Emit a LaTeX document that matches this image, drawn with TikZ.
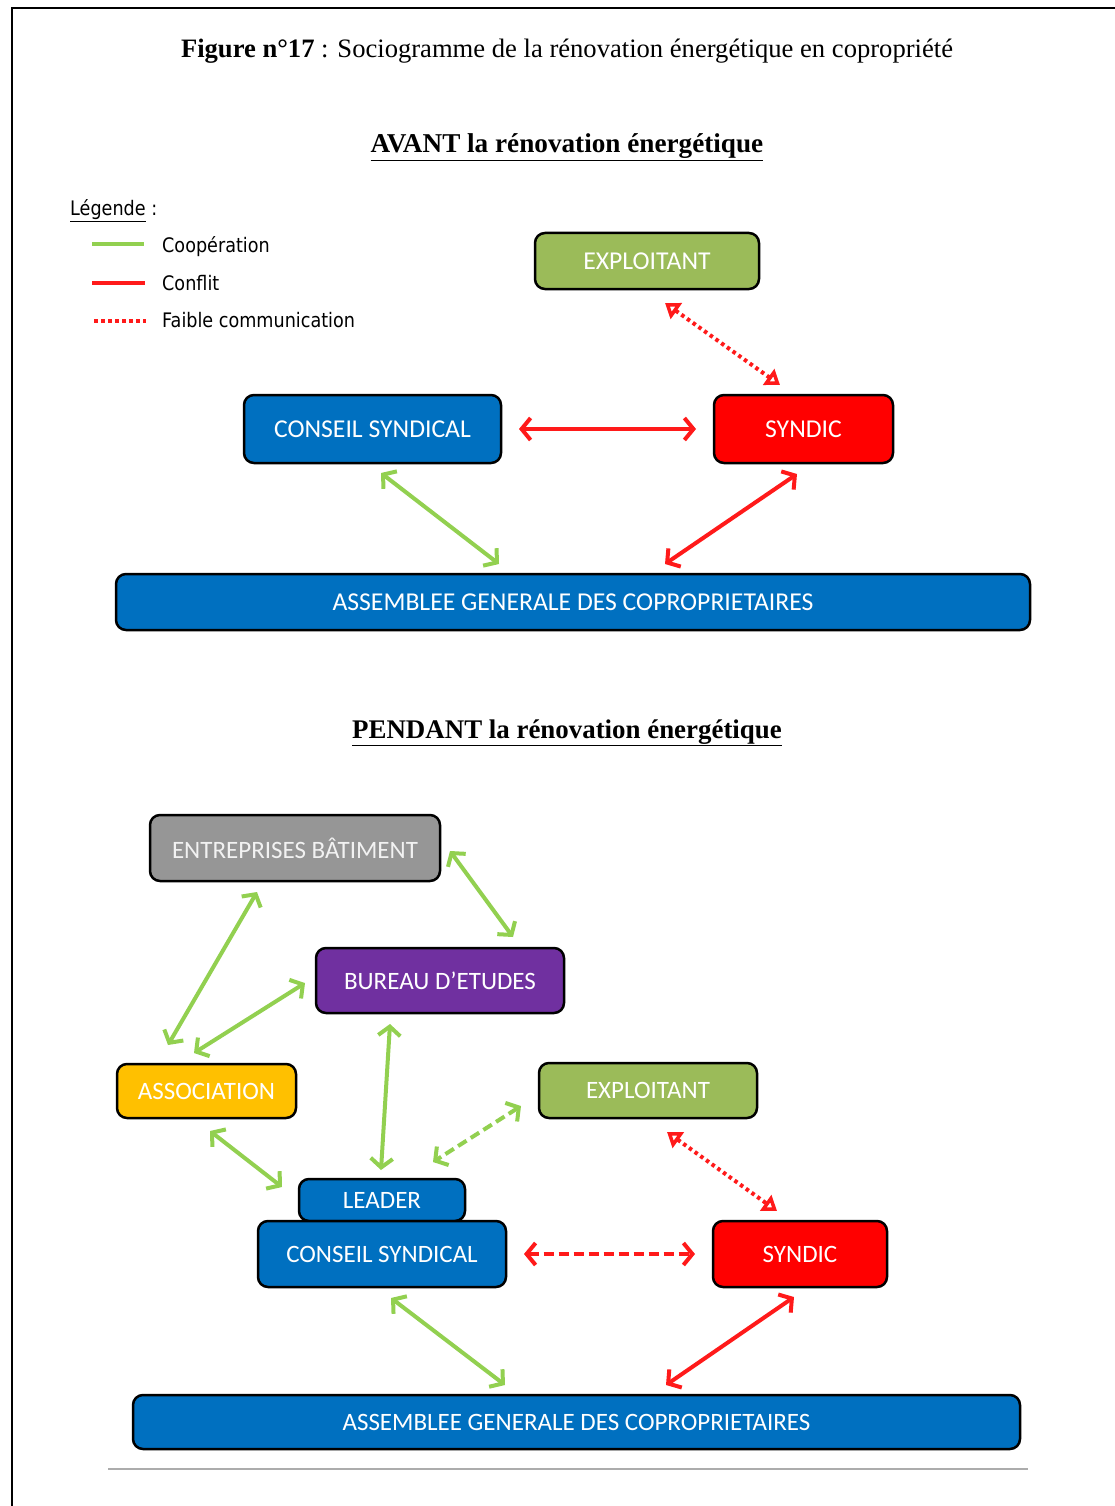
\documentclass[tikz,border=0pt]{standalone}
\usepackage{fontspec}
\setmainfont{Liberation Serif}
\newfontfamily\calib{Carlito}
\newfontfamily\legfont[FakeStretch=0.88]{DejaVu Sans}
\usetikzlibrary{arrows.meta,calc}
\definecolor{cgreen}{HTML}{92D050}
\definecolor{cred}{HTML}{FF1A1A}
\definecolor{nodegreen}{HTML}{9BBB59}
\definecolor{nodeblue}{HTML}{0070C0}
\definecolor{nodered}{HTML}{FF0000}
\definecolor{nodepurple}{HTML}{7030A0}
\definecolor{nodegray}{HTML}{969696}
\definecolor{nodeyellow}{HTML}{FFC000}
\tikzset{
  box/.style={draw=black, line width=2.5pt, rounded corners=10pt, text=white,
    font=\calib\fontsize{25.7}{30}\selectfont, inner sep=0pt, align=center},
  boxb/.style={box, font=\calib\fontsize{25}{30}\selectfont},
  coop/.style={draw=cgreen, line width=4pt,
    {Straight Barb[length=9pt,width=22pt]}-{Straight Barb[length=9pt,width=22pt]}},
  conflict/.style={draw=cred, line width=4pt,
    {Straight Barb[length=9pt,width=22pt]}-{Straight Barb[length=9pt,width=22pt]}},
  conflictdash/.style={conflict, dash pattern=on 10pt off 5pt},
  coopdash/.style={coop, dash pattern=on 10pt off 5pt},
  faible/.style={draw=cred, line width=4pt, dash pattern=on 3.5pt off 3.5pt,
    {Triangle[open,length=14pt,width=19pt,fill=white]}-{Triangle[open,length=14pt,width=19pt,fill=white]}},
  heading/.style={anchor=base, font=\fontsize{27.2}{30}\selectfont\bfseries},
  legtext/.style={anchor=base west, inner sep=0pt, font=\legfont\fontsize{20}{24}\selectfont},
}
\begin{document}
\begin{tikzpicture}[x=1pt,y=-1pt]
\useasboundingbox (0,0) rectangle (1115,1506);
% frame
\draw[line width=2pt] (12,1506) -- (12,8) -- (1115,8);
% title
\node[anchor=base, inner sep=0pt, font=\fontsize{26.6}{30}\selectfont] (title) at (567,58)
  {\textbf{Figure n°17} : Sociogramme de la rénovation énergétique en copropriété};
\node[heading, inner sep=0pt] (h1) at (567,153) {\underline{AVANT la rénovation énergétique}};
\node[heading, inner sep=0pt, font=\fontsize{26.9}{30}\selectfont\bfseries] (h2) at (567,738) {\underline{PENDANT la rénovation énergétique}};

% legend
\node[legtext] (leg) at (70,216) {\underline{Légende} :};
\coordinate (lg1a) at (92,244); \coordinate (lg1b) at (144,244);
\coordinate (lg2a) at (92,283); \coordinate (lg2b) at (145,283);
\coordinate (lg3a) at (94,321); \coordinate (lg3b) at (146,321);
\draw[cgreen, line width=3.5pt] (lg1a) -- (lg1b);
\draw[cred, line width=3.5pt] (lg2a) -- (lg2b);
\draw[cred, line width=3.5pt, dash pattern=on 3.5pt off 3.5pt] (lg3a) -- (lg3b);
\node[legtext] (l1) at (162,252) {Coopération};
\node[legtext] (l2) at (162,290) {Conflit};
\node[legtext] (l3) at (162,327) {Faible communication};

% ---- AVANT ----
\node[box, fill=nodegreen, minimum width=224pt, minimum height=56pt] (exp1) at (647,261) {EXPLOITANT};
\node[box, fill=nodeblue, minimum width=257pt, minimum height=68pt] (cs1) at (372.5,429) {CONSEIL SYNDICAL};
\node[box, fill=nodered, minimum width=179pt, minimum height=68pt] (sy1) at (803.5,429) {SYNDIC};
\node[box, fill=nodeblue, minimum width=914pt, minimum height=56pt] (asm1) at (573,602) {ASSEMBLEE GENERALE DES COPROPRIETAIRES};

\draw[faible] ($(exp1)+(18,42)$) -- ($(sy1)+(-23.5,-44)$);
\draw[conflict] ($(cs1)+(146.5,0)$) -- ($(sy1)+(-107.5,0)$);
\draw[coop] ($(cs1)+(8.5,44)$) -- ($(asm1)+(-74,-38)$);
\draw[conflict] ($(sy1)+(-6.5,45)$) -- ($(asm1)+(92,-38)$);

% ---- PENDANT ----
\node[boxb, fill=nodegray, text=white!95!black, minimum width=290pt, minimum height=66pt] (ent) at (295,848) {ENTREPRISES BÂTIMENT};
\node[boxb, fill=nodepurple, minimum width=248pt, minimum height=65pt] (bur) at (440,980.5) {BUREAU D’ETUDES};
\node[boxb, fill=nodeyellow, minimum width=179pt, minimum height=54pt] (ass) at (206.5,1091) {ASSOCIATION};
\node[boxb, fill=nodegreen, minimum width=218pt, minimum height=55pt] (exp2) at (648,1090.5) {EXPLOITANT};
\node[boxb, fill=nodeblue, minimum width=166pt, minimum height=42pt] (lead) at (382,1200) {LEADER};
\node[boxb, fill=nodeblue, minimum width=248pt, minimum height=66pt] (cs2) at (382,1254) {CONSEIL SYNDICAL};
\node[boxb, fill=nodered, minimum width=174pt, minimum height=66pt] (sy2) at (800,1254) {SYNDIC};
\node[boxb, fill=nodeblue, minimum width=887pt, minimum height=54pt] (asm2) at (576.5,1422) {ASSEMBLEE GENERALE DES COPROPRIETAIRES};

\draw[coop] ($(ent)+(155,3)$) -- ($(bur)+(73,-43.5)$);
\draw[coop] ($(ent)+(-38,44)$) -- ($(ass)+(-38.5,-46)$);
\draw[coop] ($(bur)+(-135,2.5)$) -- ($(ass)+(-12.5,-38)$);
\draw[coop] ($(bur)+(-50,43.5)$) -- ($(lead)+(-1,-30)$);
\draw[coop] ($(ass)+(3.5,40)$) -- ($(lead)+(-100,-13)$);
\draw[coopdash] ($(exp2)+(-127,15.5)$) -- ($(lead)+(51,-38)$);
\draw[faible] ($(exp2)+(19,41.5)$) -- ($(sy2)+(-23,-43)$);
\draw[conflictdash] ($(cs2)+(142,0)$) -- ($(sy2)+(-105,0)$);
\draw[coop] ($(cs2)+(9,44)$) -- ($(asm2)+(-71.5,-37)$);
\draw[conflict] ($(sy2)+(-6,43)$) -- ($(asm2)+(89.5,-37)$);

% bottom rule
\coordinate (r1) at (108,1469); \coordinate (r2) at (1028,1469);
\draw[gray!65, line width=1.5pt] (r1) -- (r2);
\end{tikzpicture}
\end{document}
